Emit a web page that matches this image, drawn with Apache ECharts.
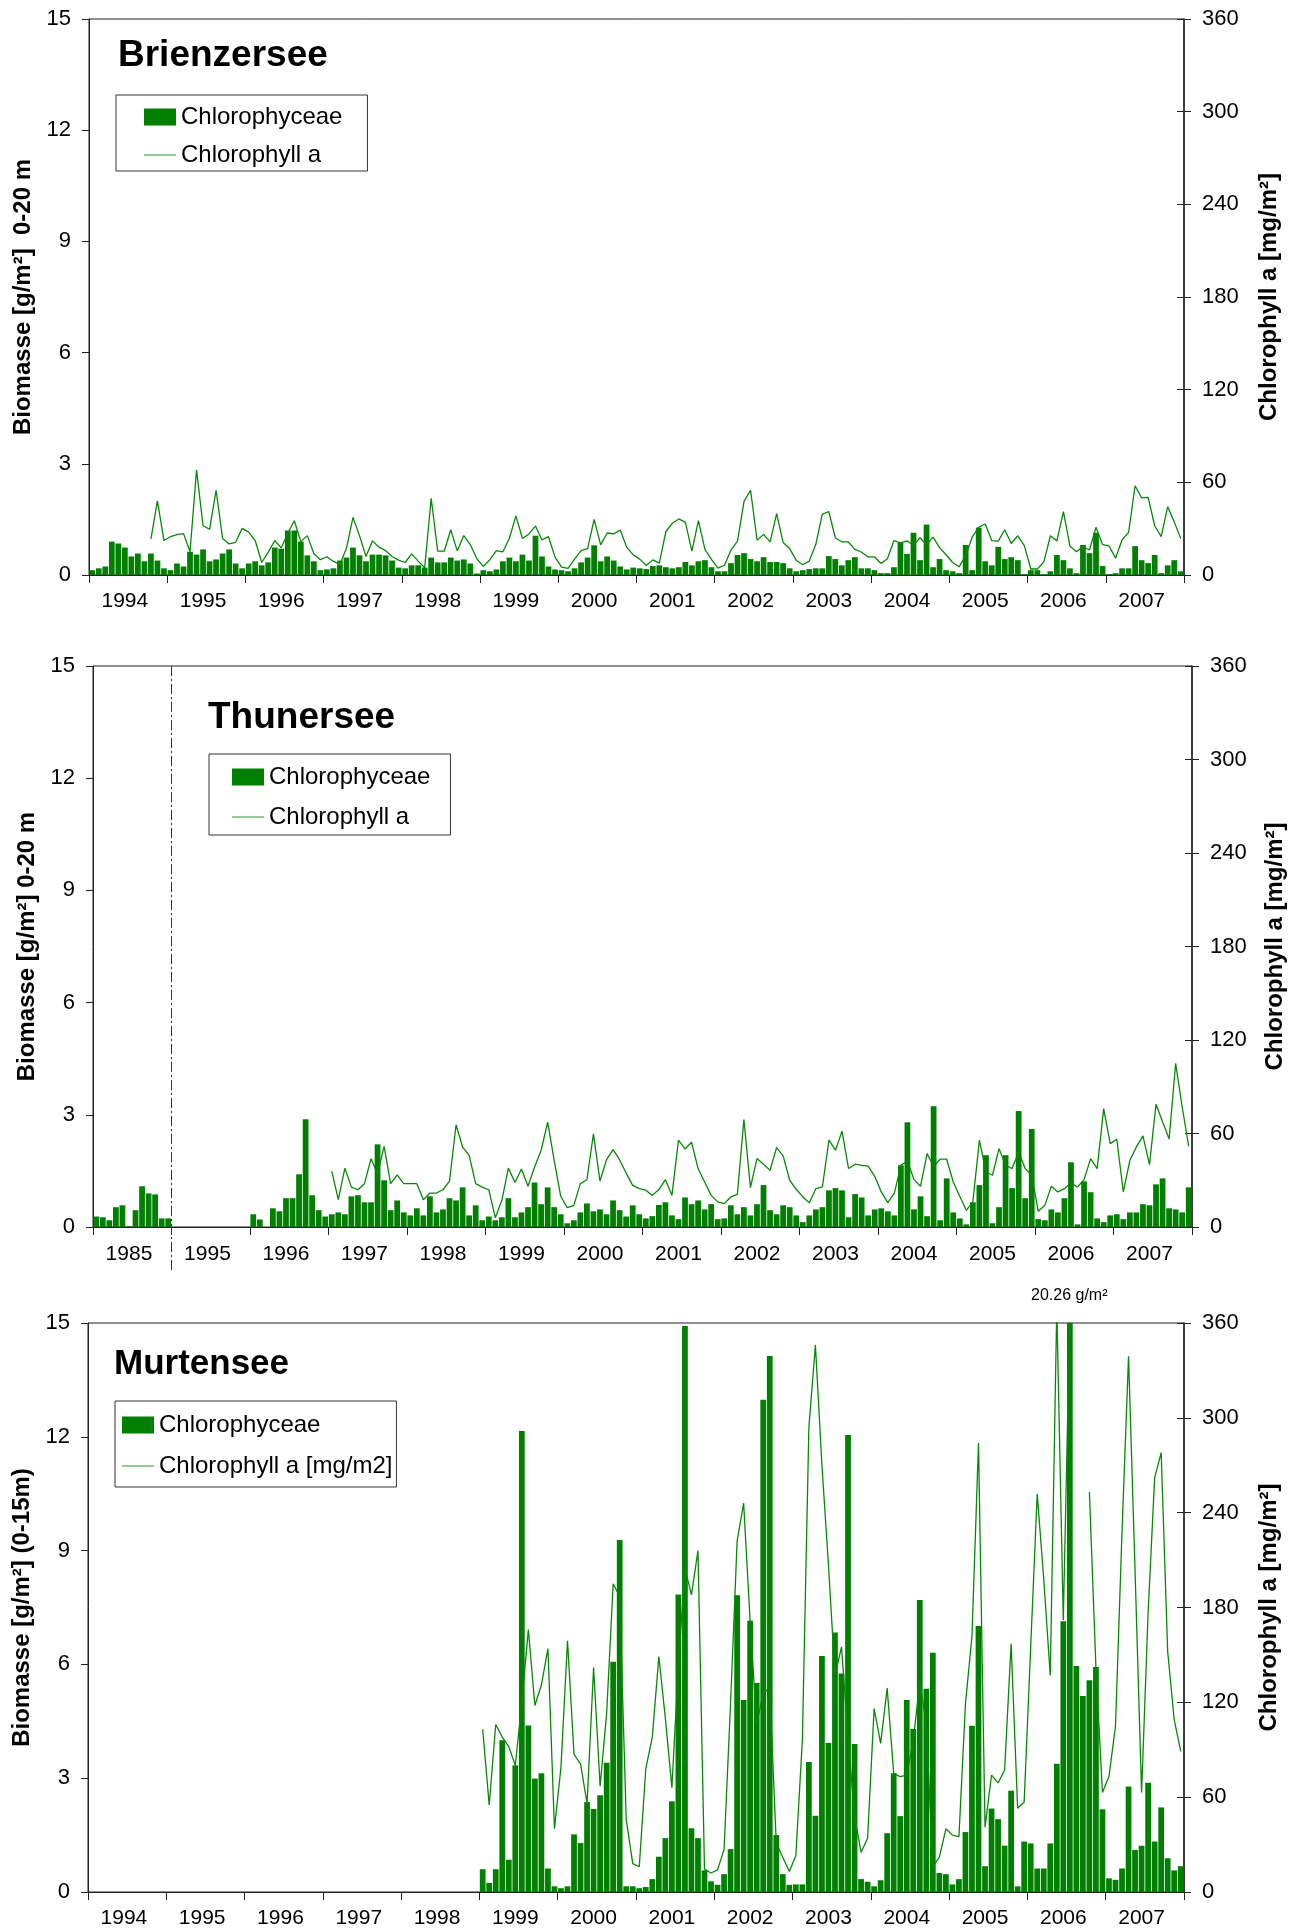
<!DOCTYPE html>
<html><head><meta charset="utf-8">
<script src="https://cdn.jsdelivr.net/npm/echarts@6/dist/echarts.min.js"></script>
<style>html,body{margin:0;padding:0;background:#fff}#c{width:1302px;height:1930px}</style>
</head><body><div id="c"></div>
<script>
// ---------- years / categories ----------
const yearsBrienz = [1994,1995,1996,1997,1998,1999,2000,2001,2002,2003,2004,2005,2006,2007];
const yearsThun   = [1985,1995,1996,1997,1998,1999,2000,2001,2002,2003,2004,2005,2006,2007];
const yearsMurten = [1994,1995,1996,1997,1998,1999,2000,2001,2002,2003,2004,2005,2006,2007];
const months = ['01','02','03','04','05','06','07','08','09','10','11','12'];

// ---------- Brienzersee ----------
const brienzBiomass = [
 0.13,0.18,0.23,0.9,0.85,0.74,0.5,0.58,0.37,0.58,0.39,0.18,
 0.13,0.31,0.23,0.63,0.55,0.69,0.37,0.42,0.58,0.69,0.31,0.18,
 0.31,0.37,0.26,0.34,0.74,0.71,1.2,1.2,0.9,0.53,0.37,0.13,
 0.15,0.18,0.39,0.47,0.74,0.53,0.37,0.55,0.55,0.53,0.39,0.2,
 0.18,0.26,0.26,0.2,0.47,0.34,0.34,0.47,0.39,0.42,0.31,0.04,
 0.13,0.1,0.15,0.37,0.47,0.37,0.55,0.39,1.06,0.5,0.23,0.15,
 0.13,0.1,0.18,0.34,0.47,0.8,0.37,0.5,0.39,0.23,0.15,0.2,
 0.18,0.16,0.24,0.26,0.21,0.18,0.21,0.35,0.26,0.37,0.4,0.21,
 0.1,0.1,0.32,0.54,0.59,0.43,0.37,0.48,0.35,0.35,0.32,0.18,
 0.1,0.13,0.16,0.18,0.18,0.51,0.43,0.26,0.4,0.48,0.18,0.18,
 0.13,0.05,0.05,0.21,0.87,0.57,1.14,0.4,1.36,0.21,0.43,0.13,
 0.1,0.05,0.81,0.13,1.28,0.37,0.26,0.76,0.43,0.48,0.4,0.02,
 0.13,0.13,0.02,0.1,0.54,0.4,0.18,0.05,0.81,0.59,1.14,0.24,
 0.02,0.05,0.18,0.18,0.78,0.4,0.32,0.54,0.05,0.26,0.4,0.1
];
const brienzChl = [
 null,null,null,null,null,null,null,null,null,23.3,48,22.3,
 24.8,26.1,26.8,15.2,67.9,31.9,29.6,54.8,23.6,20.1,21.2,30.2,
 27.8,22.3,8.1,14.8,22.3,17.6,27,35.1,21.6,25.5,13.7,9.9,
 11.8,8.8,6.9,17.3,37.3,25.5,12,22.1,18,15.8,12,9.6,
 8.1,13.7,9,4.7,49.7,15.4,15.4,29.3,15.6,25.5,19.7,10.5,
 5.6,9.9,15.8,15,23.8,38.3,23.6,26.6,31.7,22.7,24.8,11.6,
 5.1,4.3,10.3,15.8,17.1,36,19.5,27.2,26.6,29.1,18,13,
 10.3,6.1,9.8,7.7,28,33.5,36.3,34.1,15.5,35.2,16.6,10.1,
 4.4,6.3,16.2,21.9,47.7,54.9,22.5,26.3,21.4,39.8,21,17.1,
 9.6,6.6,9,19.7,39.2,41.1,24.1,21.4,21.4,16.6,14.9,11.8,
 11.8,7.4,10.5,22.3,20.8,22.1,19.3,24.1,19.5,24.5,17.7,13.1,
 8.1,5.3,12.5,24.5,30.9,33,22.3,21.9,29.3,20.4,25.4,19,
 3.9,3.9,8.5,25.4,22.1,41.1,18.8,15.1,18.4,16.2,30.9,19.7,
 18.8,10.9,22.8,27.6,57.8,49.9,50.3,31.9,24.9,44.2,34.4,23.6
];

// ---------- Thunersee ----------
const thunBiomass = [
 0.28,0.26,0.18,0.53,0.58,0.02,0.45,1.09,0.9,0.87,0.23,0.23,
 null,null,null,null,null,null,null,null,null,null,null,null,
 0.34,0.2,null,0.5,0.42,0.77,0.77,1.41,2.88,0.85,0.45,0.28,
 0.34,0.39,0.34,0.82,0.85,0.66,0.66,2.21,1.25,0.45,0.71,0.39,
 0.31,0.5,0.31,0.82,0.39,0.47,0.77,0.71,1.06,0.31,0.58,0.18,
 0.28,0.18,0.26,0.77,0.26,0.39,0.53,1.19,0.61,1.06,0.53,0.34,
 0.1,0.18,0.39,0.63,0.42,0.47,0.34,0.71,0.45,0.28,0.58,0.34,
 0.23,0.29,0.59,0.66,0.31,0.21,0.79,0.61,0.71,0.47,0.61,0.21,
 0.23,0.58,0.34,0.53,0.31,0.61,1.12,0.45,0.34,0.58,0.53,0.31,
 0.13,0.31,0.47,0.53,0.98,1.04,0.98,0.26,0.88,0.79,0.31,0.47,
 0.5,0.42,0.31,1.65,2.8,0.47,0.82,0.29,3.23,0.18,1.3,0.39,
 0.23,0.07,0.66,1.12,1.92,0.1,0.53,1.92,1.04,3.1,0.77,2.62,
 0.21,0.18,0.47,0.39,0.77,1.73,0.07,1.22,0.93,0.23,0.13,0.31,
 0.34,0.21,0.39,0.39,0.61,0.58,1.14,1.3,0.5,0.47,0.39,1.06
];
const thunChl = [
 null,null,null,null,null,null,null,null,null,null,null,null,
 null,null,null,null,null,null,null,null,null,null,null,null,
 null,null,null,null,null,null,null,null,null,null,null,null,
 35.9,17.5,37.8,25.6,23.9,27.8,43.8,34,51.7,27.8,33.5,27.8,
 27.8,27.8,17.5,21.8,21.8,23.9,29.5,65.6,51.3,45.9,27.8,25.6,
 23.9,6,17.1,37.8,28.6,37.2,26.1,38.5,49.1,67.3,42.7,19.7,
 12.4,13.9,27.8,30.3,59.8,29.5,43.2,49.6,43.2,34.6,26.7,24.6,
 23.6,20.3,24,30.4,20.3,55.7,50.1,54.4,37.5,28.9,20.3,16.1,
 15,19.3,21,69,25.3,43.9,40.3,36.4,51,45.6,30,24.2,
 19.3,15.6,24.6,25.7,55.7,49.3,61.5,37.5,40.3,39.6,39,32.5,
 22.5,15.6,21.8,39.6,42.4,30.4,26.1,47.1,39,43.5,43.5,28.9,
 19.7,10.7,16.1,55.7,35.3,33.2,50.3,39.6,37.5,48.2,37.5,33.2,
 10.1,13.9,26.1,22.5,24.6,28.3,25.7,30.4,43.9,37.5,76,53.5,
 56.3,22.5,42.8,51.4,58.5,40,78.8,67.5,56.5,105,77,51.8
];

// ---------- Murtensee ----------
const murtenBiomass = [
 null,null,null,null,null,null,null,null,null,null,null,null,
 null,null,null,null,null,null,null,null,null,null,null,null,
 null,null,null,null,null,null,null,null,null,null,null,null,
 null,null,null,null,null,null,null,null,null,null,null,null,
 null,null,null,null,null,null,null,null,null,null,null,null,
 0.6,0.24,0.6,4.0,0.85,3.34,12.15,4.39,2.99,3.13,0.62,0.15,
 0.1,0.15,1.52,1.29,2.37,2.19,2.55,3.41,6.07,9.28,0.15,0.15,
 0.1,0.13,0.34,0.93,1.42,2.39,7.84,14.92,1.68,1.42,0.57,0.28,
 0.19,0.47,1.13,7.82,5.06,7.15,5.51,12.98,14.13,1.5,0.47,0.19,
 0.2,0.2,3.43,2.01,6.22,3.93,6.84,5.76,12.05,3.9,0.34,0.27,
 0.15,0.31,1.55,3.13,2.0,5.06,4.3,7.7,5.36,6.31,0.5,0.47,
 0.2,0.34,1.58,4.38,7.01,0.68,2.2,1.92,1.22,2.67,0.15,1.33,
 1.28,0.62,0.62,1.28,3.38,7.14,20.26,5.96,5.17,5.58,5.93,2.18,
 0.36,0.32,0.62,2.78,1.11,1.22,2.88,1.33,2.23,0.89,0.57,0.68
];
const murtenChl = [
 null,null,null,null,null,null,null,null,null,null,null,null,
 null,null,null,null,null,null,null,null,null,null,null,null,
 null,null,null,null,null,null,null,null,null,null,null,null,
 null,null,null,null,null,null,null,null,null,null,null,null,
 null,null,null,null,null,null,null,null,null,null,null,null,
 103,55,106,98,92,80,120,166,118,131,154,40,
 79,159,87,81,56,142,67,113,195,187,46,18,
 16,78,98,149,110,66,144,205,188,216,14.5,12,
 14,27,120,222,246,171,106,126,129,31,22,13,
 23,96,294,346,270,207,137,155,98,48,25,34,
 116,94,129,75,73,74,96,133,106,16,22,40,
 36,35,119,162,284,41,74,69,77,157,53,57,
 155,252,198,137,370,172,365,null,null,253,142,63,
 73,105,228,339,203,63,177,262,278,152,109,89
];
const murtenMaxNote = '20.26 g/m²';

// ---------- build ----------
const FONT = "'Liberation Sans', Arial, Helvetica, sans-serif";
const cats = ys => ys.flatMap(y => months.map(m => y + '-' + m));
const catsB = cats(yearsBrienz), catsT = cats(yearsThun), catsM = cats(yearsMurten);
const AX = '#222';
const BAR = '#007f00', LINE = '#0a870a';

const grids = [
  {left: 89, top: 19, width: 1095, height: 556},
  {left: 93, top: 666, width: 1099, height: 561},
  {left: 88, top: 1323, width: 1096, height: 569}
];

function xAxis(gi, data, margin) {
  return {type: 'category', gridIndex: gi, data, boundaryGap: true,
    axisLine: {lineStyle: {color: AX, width: 1}},
    axisTick: {show: true, length: 8, interval: i => i % 12 === 0, lineStyle: {color: AX}},
    axisLabel: {interval: i => i % 12 === 5, formatter: v => v.slice(0, 4), color: '#000',
      fontSize: 21, fontFamily: FONT, margin},
    splitLine: {show: false}};
}
function yLeft(gi, name, gap) {
  return {type: 'value', gridIndex: gi, min: 0, max: 15, interval: 3, position: 'left',
    name, nameLocation: 'middle', nameRotate: 90, nameGap: gap,
    nameTextStyle: {fontSize: 24, fontWeight: 'bold', fontFamily: FONT, color: '#000'},
    axisLine: {show: true, lineStyle: {color: AX}},
    axisTick: {show: true, length: 7, lineStyle: {color: AX}},
    axisLabel: {color: '#000', fontSize: 22, fontFamily: FONT, margin: 18},
    splitLine: {show: false}};
}
function yRight(gi, gap) {
  return {type: 'value', gridIndex: gi, min: 0, max: 360, interval: 60, position: 'right',
    name: 'Chlorophyll a [mg/m²]', nameLocation: 'middle', nameRotate: 90, nameGap: gap,
    nameTextStyle: {fontSize: 24, fontWeight: 'bold', fontFamily: FONT, color: '#000'},
    axisLine: {show: true, lineStyle: {color: AX, width: 1.5}},
    axisTick: {show: true, length: 7, lineStyle: {color: AX}},
    axisLabel: {color: '#000', fontSize: 22, fontFamily: FONT, margin: 18},
    splitLine: {show: false}};
}
function yRightInner(gi) {
  return {type: 'value', gridIndex: gi, min: 0, max: 360, interval: 60, position: 'right',
    axisLine: {show: false}, axisTick: {show: true, inside: true, length: 7, lineStyle: {color: AX}},
    axisLabel: {show: false}, splitLine: {show: false}};
}
function barS(gi, data) {
  return {type: 'bar', name: 'Chlorophyceae', xAxisIndex: gi, yAxisIndex: gi * 3, data,
    itemStyle: {color: BAR}, barCategoryGap: '12%', clip: true, z: 2};
}
function lineS(gi, name, data) {
  return {type: 'line', name, xAxisIndex: gi, yAxisIndex: gi * 3 + 1, data,
    symbol: 'none', showSymbol: false, connectNulls: false, clip: true,
    lineStyle: {color: LINE, width: 1.3}, itemStyle: {color: LINE}, z: 3};
}
const LINE_ICON = 'path://M0,0 L64,0 L64,2.4 L0,2.4 Z';
function legend(left, top, padding, gap, lineName) {
  return {left, top, orient: 'vertical', padding, itemGap: gap, itemWidth: 32, itemHeight: 17,
    borderColor: '#333', borderWidth: 1, selectedMode: false,
    textStyle: {fontSize: 24, fontFamily: FONT, color: '#000', lineHeight: 24},
    data: [{name: 'Chlorophyceae', icon: 'rect'},
           {name: lineName, icon: LINE_ICON, itemStyle: {color: '#4fa84f'}}]};
}
const titleStyle = s => ({fontSize: s, fontWeight: 'bold', fontFamily: FONT, color: '#000', lineHeight: s});

const option = {
  backgroundColor: '#fff',
  animation: false,
  grid: grids.map(g => Object.assign({show: true, borderColor: AX, borderWidth: 1, containLabel: false}, g)),
  title: [
    {text: 'Brienzersee', left: 118, top: 37, padding: 0, textStyle: titleStyle(37)},
    {text: 'Thunersee', left: 208, top: 699, padding: 0, textStyle: titleStyle(37)},
    {text: 'Murtensee', left: 114, top: 1347, padding: 0, textStyle: titleStyle(35)},
    {text: murtenMaxNote, left: 1031, top: 1288, padding: 0,
      textStyle: {fontSize: 16, fontWeight: 'normal', fontFamily: FONT, color: '#000'}}
  ],
  legend: [
    legend(116, 95, [10, 25, 4, 28], 14, 'Chlorophyll a'),
    legend(209, 754, [11, 20, 6, 23], 16, 'Chlorophyll a'),
    legend(115, 1401, [12, 4, 9, 7], 17, 'Chlorophyll a [mg/m2]')
  ],
  xAxis: [xAxis(0, catsB, 16), xAxis(1, catsT, 17), xAxis(2, catsM, 16)],
  yAxis: [
    yLeft(0, 'Biomasse [g/m²]  0-20 m', 49), yRight(0, 73), yRightInner(0),
    yLeft(1, 'Biomasse [g/m²] 0-20 m', 51), yRight(1, 71), yRightInner(1),
    yLeft(2, 'Biomasse [g/m²] (0-15m)', 51), yRight(2, 73), yRightInner(2)
  ],
  series: [
    barS(0, brienzBiomass), lineS(0, 'Chlorophyll a', brienzChl),
    barS(1, thunBiomass), lineS(1, 'Chlorophyll a', thunChl),
    barS(2, murtenBiomass), lineS(2, 'Chlorophyll a [mg/m2]', murtenChl)
  ]
};

const chart = echarts.init(document.getElementById('c'), null, {renderer: 'canvas'});
chart.setOption(option);

// dash-dot separator between 1985 and 1995 in the Thunersee panel (placed via axis scale)
const xa = chart.convertToPixel({xAxisIndex: 1}, catsT[11]);
const xb = chart.convertToPixel({xAxisIndex: 1}, catsT[12]);
const xs = (xa + xb) / 2;
const yTop = chart.convertToPixel({yAxisIndex: 3}, 15);
const yBot = chart.convertToPixel({yAxisIndex: 3}, 0);
chart.setOption({graphic: [{type: 'line', z: 10,
  shape: {x1: xs, y1: yTop, x2: xs, y2: yBot + 45},
  style: {stroke: '#333', lineWidth: 1, lineDash: [10, 3, 2, 3]}}]});
</script></body></html>
